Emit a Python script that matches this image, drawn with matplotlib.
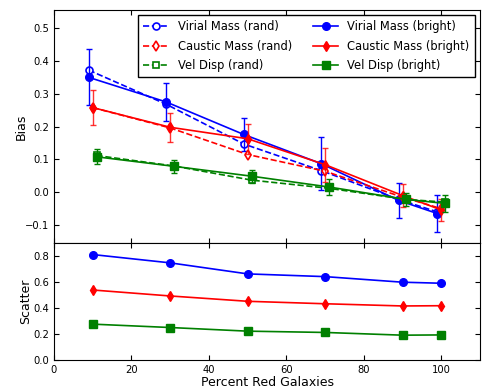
import matplotlib
matplotlib.use('Agg')
import matplotlib.pyplot as plt
import numpy as np

pct = np.array([10, 30, 50, 70, 90, 100])

# bias, random selection
vir_rand = [0.372, 0.268, 0.147, 0.066, -0.022, -0.060]
cau_rand = [0.258, 0.196, 0.115, 0.064, -0.015, -0.050]
vel_rand = [0.112, 0.080, 0.037, 0.012, -0.022, -0.030]

# bias, brightest selection
vir_bright = [0.350, 0.275, 0.176, 0.087, -0.025, -0.065]
cau_bright = [0.258, 0.198, 0.163, 0.084, -0.010, -0.054]
vel_bright = [0.108, 0.079, 0.049, 0.016, -0.022, -0.034]

vir_err = [0.085, 0.057, 0.051, 0.081, 0.052, 0.056]
cau_err = [0.054, 0.045, 0.045, 0.052, 0.036, 0.034]
vel_err = [0.023, 0.020, 0.020, 0.023, 0.020, 0.026]

# scatter
vir_scat = [0.812, 0.748, 0.663, 0.642, 0.599, 0.591]
cau_scat = [0.539, 0.493, 0.452, 0.433, 0.416, 0.418]
vel_scat = [0.276, 0.250, 0.222, 0.212, 0.191, 0.193]

plt.rcParams['font.size'] = 7.2
plt.rcParams['xtick.direction'] = 'in'
plt.rcParams['ytick.direction'] = 'in'
plt.rcParams['xtick.top'] = True
plt.rcParams['ytick.right'] = True

fig = plt.figure(figsize=(4.82, 3.89), dpi=100)
ax1 = fig.add_axes([0.112, 0.375, 0.884, 0.599])
ax2 = fig.add_axes([0.112, 0.0746, 0.884, 0.3004], sharex=ax1)

series = [
    (vir_rand, vir_bright, vir_err, 'blue', 'o', 'Virial Mass', -1),
    (cau_rand, cau_bright, cau_err, 'red', 'd', 'Caustic Mass', 0),
    (vel_rand, vel_bright, vel_err, 'green', 's', 'Vel Disp', 1),
]

handles_r = []
handles_b = []
for rand, bright, err, c, m, name, off in series:
    x = pct + off
    hr, = ax1.plot(x, rand, ls='--', color=c, marker=m, mfc='white', mec=c,
                   mew=1.2, ms=5, lw=1.2, label=name + ' (rand)')
    ax1.errorbar(x, bright, yerr=err, fmt='none', ecolor=c, elinewidth=1,
                 capsize=2.5, alpha=0.8 if c == 'red' else 1)
    hb, = ax1.plot(x, bright, ls='-', color=c, marker=m, ms=5.5, lw=1.2,
                   label=name + ' (bright)')
    handles_r.append(hr)
    handles_b.append(hb)

ax1.legend(handles_r + handles_b, [h.get_label() for h in handles_r + handles_b],
           ncol=2, loc='upper right', fontsize=8.3, numpoints=1, fancybox=False,
           edgecolor='black', framealpha=1, handlelength=2.2,
           borderaxespad=0.45, columnspacing=1.8, labelspacing=0.55,
           borderpad=0.45)

ax1.set_ylim(-0.155, 0.555)
ax1.set_yticks([-0.1, 0.0, 0.1, 0.2, 0.3, 0.4, 0.5])
ax1.set_ylabel('Bias', fontsize=9)
ax1.yaxis.set_label_coords(-0.061, 0.5)
ax1.tick_params(labelbottom=False)

for vals, c, m in [(vir_scat, 'blue', 'o'), (cau_scat, 'red', 'd'), (vel_scat, 'green', 's')]:
    ax2.plot(pct, vals, ls='-', color=c, marker=m, ms=5.5, lw=1.2)

ax2.set_xlim(0, 110)
ax2.set_xticks([0, 20, 40, 60, 80, 100])
ax2.set_ylim(0, 0.9)
ax2.set_yticks([0.0, 0.2, 0.4, 0.6, 0.8])
ax2.set_ylabel('Scatter', fontsize=9)
ax2.yaxis.set_label_coords(-0.051, 0.5)
ax2.set_xlabel('Percent Red Galaxies', fontsize=9, labelpad=1)

fig.savefig('out.png', dpi=100)
